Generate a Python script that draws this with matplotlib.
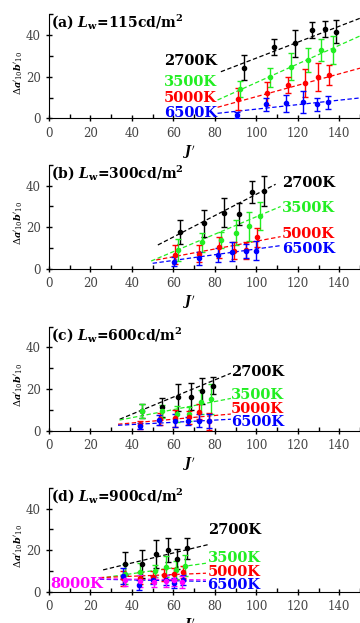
import matplotlib
matplotlib.use("Agg")
import matplotlib.pyplot as plt
from matplotlib.ticker import MultipleLocator

plt.rcParams["mathtext.fontset"] = "dejavuserif"
plt.rcParams["font.family"] = "DejaVu Serif"

CCT = ["2700K", "3500K", "5000K", "6500K", "8000K"]
COLORS = ["black", "#22ee22", "red", "blue", "magenta"]

# panel (a) Lw = 115 cd/m2
a_J = [[94.1, 108.5, 118.6, 126.9, 133.0, 138.4],
       [92.2, 106.4, 116.8, 124.8, 131.2, 136.8],
       [91.2, 105.3, 115.4, 123.4, 129.8, 135.2],
       [90.9, 104.5, 114.4, 122.6, 129.3, 134.6]]
a_d = [[24.3, 34.1, 36.0, 42.4, 42.9, 41.6],
       [13.9, 19.7, 24.8, 28.0, 32.8, 32.8],
       [9.4, 12.0, 16.0, 16.8, 20.0, 20.8],
       [1.6, 6.7, 7.2, 8.0, 6.7, 7.7]]
a_err = [[6.0, 3.8, 6.4, 3.8, 3.8, 5.6],
         [3.8, 4.7, 6.4, 5.6, 5.2, 6.6],
         [5.4, 5.4, 4.0, 6.7, 6.8, 5.0],
         [1.5, 3.0, 4.0, 5.3, 3.3, 3.1]]
# fitted lines: J start, d start, J end, d end
a_fit = [[82.9, 22.4, 150.0, 48.1],
         [81.3, 8.8, 150.0, 39.6],
         [81.3, 5.3, 150.0, 24.1],
         [81.3, 2.4, 150.0, 9.8]]

# panel (b) Lw = 300 cd/m2
b_J = [[63.2, 75.0, 84.2, 91.4, 98.1, 103.8],
       [62.1, 73.8, 82.9, 90.1, 96.5, 101.8],
       [61.0, 72.5, 81.8, 89.3, 94.9, 100.5],
       [60.5, 72.2, 81.3, 88.5, 94.9, 99.7]]
b_d = [[17.8, 21.8, 26.9, 26.3, 36.8, 37.2],
       [9.0, 12.6, 13.8, 17.2, 20.3, 25.3],
       [6.7, 7.2, 10.3, 8.6, 8.8, 15.1],
       [3.4, 5.0, 6.6, 8.2, 8.6, 8.6]]
b_err = [[5.8, 6.5, 7.0, 5.2, 5.2, 7.2],
         [5.4, 4.4, 4.0, 6.0, 7.0, 6.6],
         [4.5, 4.0, 5.0, 4.0, 4.0, 4.5],
         [2.0, 3.0, 3.5, 4.5, 3.5, 4.5]]
b_fit = [[52.5, 11.4, 109.3, 40.6],
         [49.3, 3.7, 111.7, 29.9],
         [51.7, 4.2, 111.7, 15.4],
         [50.0, 2.6, 111.7, 11.1]]

# panel (c) Lw = 600 cd/m2
c_J = [[44.8, 54.5, 62.4, 68.6, 73.9, 78.9],
       [44.7, 54.5, 61.6, 67.7, 73.3, 78.2],
       [43.8, 53.3, 60.9, 67.3, 72.3, 77.0],
       [43.7, 53.0, 61.0, 66.9, 72.2, 77.0]]
c_d = [[9.5, 11.3, 16.0, 16.3, 19.1, 21.7],
       [9.3, 9.3, 8.0, 8.0, 13.9, 15.3],
       [2.7, 5.5, 5.9, 6.4, 9.1, 4.5],
       [2.3, 5.1, 4.8, 4.8, 4.8, 4.7]]
c_err = [[3.5, 4.6, 6.3, 6.4, 6.4, 4.3],
         [3.4, 3.0, 4.0, 3.5, 5.8, 7.2],
         [2.0, 3.0, 4.0, 3.0, 3.5, 4.0],
         [1.5, 2.5, 3.0, 2.0, 3.0, 3.5]]
c_fit = [[34.1, 5.5, 87.7, 27.6],
         [34.0, 5.1, 87.7, 15.5],
         [33.3, 3.1, 87.7, 8.0],
         [33.3, 2.6, 87.7, 5.5]]

# panel (d) Lw = 900 cd/m2
d_J = [[36.5, 45.0, 51.7, 57.5, 61.9, 66.7],
       [36.5, 44.0, 50.9, 56.5, 61.3, 65.6],
       [35.7, 43.7, 50.1, 55.7, 60.5, 64.8],
       [35.7, 43.4, 50.1, 56.5, 60.2, 64.5],
       [36.5, 43.7, 50.5, 56.2, 60.2, 64.2]]
d_d = [[13.5, 13.3, 18.0, 20.0, 15.8, 20.8],
       [8.5, 9.6, 9.9, 12.0, 10.4, 12.5],
       [6.4, 6.7, 7.2, 8.0, 8.5, 9.6],
       [7.5, 3.2, 5.6, 5.6, 4.3, 5.6],
       [5.6, 5.1, 4.8, 5.1, 5.6, 4.8]]
d_err = [[5.5, 6.9, 6.7, 5.6, 4.8, 5.2],
         [5.0, 4.0, 3.0, 5.0, 4.5, 5.0],
         [3.5, 3.0, 3.0, 3.0, 3.0, 3.0],
         [4.0, 2.5, 2.0, 2.5, 2.5, 2.5],
         [3.0, 3.0, 2.5, 3.0, 3.0, 3.0]]
d_fit = [[26.1, 10.5, 76.5, 22.6],
         [24.5, 6.5, 75.7, 13.7],
         [24.5, 6.8, 75.7, 8.9],
         [24.5, 6.0, 75.7, 5.0],
         [24.5, 6.2, 75.7, 5.7]]

titles = ["(a)", "(b)", "(c)", "(d)"]
Lw = ["115", "300", "600", "900"]

panels = [(a_J, a_d, a_err, a_fit), (b_J, b_d, b_err, b_fit),
          (c_J, c_d, c_err, c_fit), (d_J, d_d, d_err, d_fit)]

# label anchors (x, y per CCT, horizontal alignment)
label_pos = [
    ([81, 81, 81, 81], [27.5, 17.6, 9.9, 2.7], "right"),
    ([112.5, 112.5, 112.5, 112.5], [41.1, 29.1, 16.7, 9.3], "left"),
    ([87.7, 87.7, 87.7, 87.7], [28.1, 17.2, 10.4, 4.0], "left"),
    ([76.5, 76.5, 76.5, 76.5, 0.5], [29.8, 16.1, 9.4, 3.2, 3.7], "left"),
]

fig = plt.figure(figsize=(3.6, 6.23), dpi=100)
bottoms = [0.8101, 0.5687, 0.3087, 0.0502]

for p in range(4):
    ax = fig.add_axes([0.1361, bottoms[p], 0.8639, 0.1669])
    J, d, err, fit = panels[p]
    for i in range(len(J)):
        ax.plot([fit[i][0], fit[i][2]], [fit[i][1], fit[i][3]], ls=(0, (3.5, 2)),
                lw=0.9, color=COLORS[i], zorder=2)
        ax.errorbar(J[i], d[i], yerr=err[i], fmt="o", ms=3, color=COLORS[i],
                    ecolor=COLORS[i], elinewidth=1, capsize=2, capthick=1, zorder=3)
    xs, ys, ha = label_pos[p]
    for i in range(len(xs)):
        ax.text(xs[i], ys[i], CCT[i], color=COLORS[i], fontsize=10.5,
                fontweight="bold", ha=ha, va="center", zorder=5)
    ax.text(1.0, 46, titles[p] + r" $\mathbfit{L}_{\mathbf{w}}$=" + Lw[p] + r"cd/m$^{\mathbf{2}}$",
            fontsize=10, fontweight="bold", ha="left", va="center")
    ax.set_xlim(0, 150)
    ax.set_ylim(0, 50)
    ax.spines["top"].set_visible(False)
    ax.spines["right"].set_visible(False)
    ax.xaxis.set_major_locator(MultipleLocator(20))
    ax.xaxis.set_minor_locator(MultipleLocator(10))
    ax.yaxis.set_major_locator(MultipleLocator(20))
    ax.yaxis.set_minor_locator(MultipleLocator(10))
    ax.tick_params(which="major", direction="inout", length=5, width=1,
                   labelsize=8.5, labelcolor="#444444")
    ax.tick_params(which="minor", direction="in", length=3, width=1)
    ax.set_xticks([0, 20, 40, 60, 80, 100, 120, 140])
    ax.set_yticks([0, 20, 40])
    ax.set_ylabel(r"$\Delta\mathbfit{a}'_{10}\mathbfit{b}'_{10}$", fontsize=7)
    ax.yaxis.set_label_coords(-0.078, 0.44)
    ax.set_xlabel(r"$\mathbfit{J}'$", fontsize=9)
    ax.xaxis.set_label_coords(0.45, -0.24)

fig.savefig("out.png", dpi=100)
